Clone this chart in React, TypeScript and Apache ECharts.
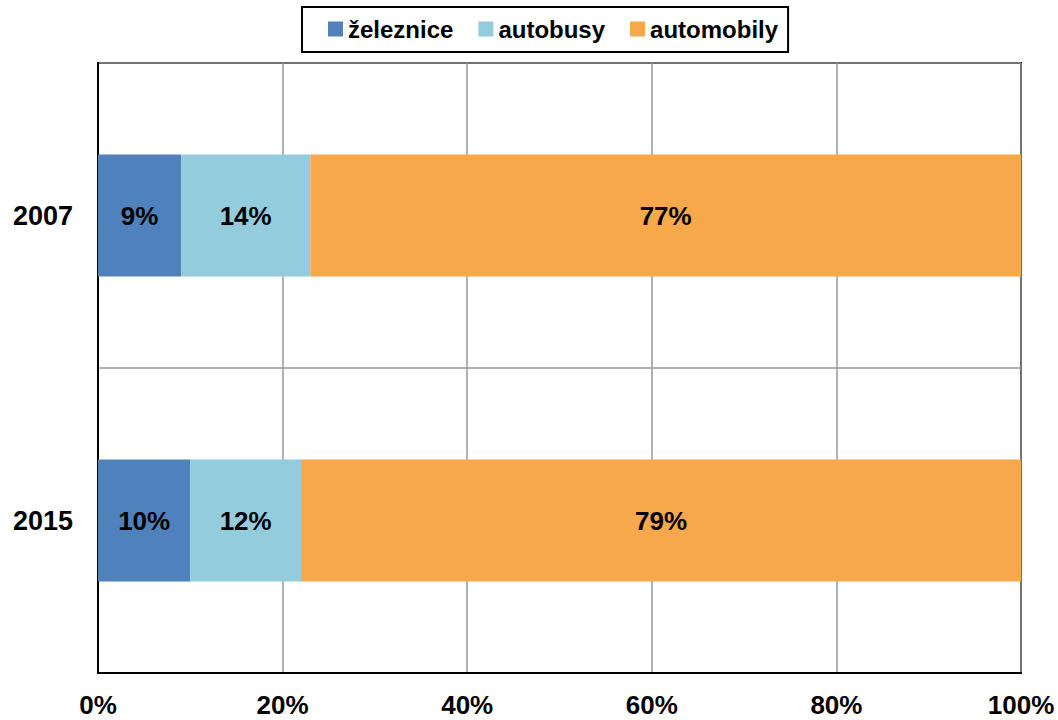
import React, { useEffect, useRef } from "react";
import * as echarts from "echarts";

const years = ["2007", "2015"];
const zeleznice = [9, 10];
const autobusy = [14, 12];
const automobily = [77, 79];
const xTicks = [0, 20, 40, 60, 80, 100];

const FONT = "'Liberation Sans', Arial, sans-serif";

export default function App() {
  const ref = useRef<HTMLDivElement>(null);

  useEffect(() => {
    if (!ref.current) return;
    const chart = echarts.init(ref.current, null, { renderer: "svg" });

    const label = {
      show: true,
      position: "inside",
      formatter: (p: any) => `${p.value}%`,
      color: "#000",
      fontFamily: FONT,
      fontWeight: "bold",
      fontSize: 26,
    };

    const mk = (name: string, data: number[], color: string) => ({
      name,
      type: "bar",
      stack: "total",
      data,
      barWidth: "40%",
      itemStyle: { color },
      label,
      clip: true,
    });

    chart.setOption({
      animation: false,
      textStyle: { fontFamily: FONT },
      legend: {
        top: 7,
        left: 302,
        padding: [10, 10, 11, 26],
        borderColor: "#000",
        borderWidth: 2,
        itemWidth: 15,
        itemHeight: 15,
        itemGap: 25,
        icon: "rect",
        textStyle: { fontFamily: FONT, fontWeight: "bold", fontSize: 24, color: "#000" },
        data: ["železnice", "autobusy", "automobily"],
      },
      grid: {
        left: 98,
        right: 37,
        top: 63,
        bottom: 47,
        show: true,
        borderColor: "#000",
        borderWidth: 2,
      },
      xAxis: {
        type: "value",
        min: xTicks[0],
        max: xTicks[xTicks.length - 1],
        interval: 20,
        axisLine: { show: true, lineStyle: { color: "#000", width: 2 } },
        axisTick: { show: false },
        axisLabel: {
          formatter: "{value}%",
          color: "#000",
          fontWeight: "bold",
          fontSize: 26,
          margin: 19,
          fontFamily: FONT,
        },
        splitLine: { show: true, lineStyle: { color: "#999", width: 1.5 } },
      },
      yAxis: {
        type: "category",
        inverse: true,
        data: years,
        axisLine: { show: true, lineStyle: { color: "#000", width: 2 } },
        axisTick: { show: false },
        axisLabel: {
          color: "#000",
          fontWeight: "bold",
          fontSize: 27,
          margin: 25,
          fontFamily: FONT,
        },
        splitLine: { show: true, lineStyle: { color: "#999", width: 1.5 } },
      },
      series: [
        mk("železnice", zeleznice, "#4F81BD"),
        mk("autobusy", autobusy, "#93CDDD"),
        mk("automobily", automobily, "#F6A84A"),
      ],
    });

    return () => chart.dispose();
  }, []);

  return (
    <div
      ref={ref}
      style={{ position: "fixed", left: 0, top: 0, width: 1058, height: 720, background: "#fff" }}
    />
  );
}
